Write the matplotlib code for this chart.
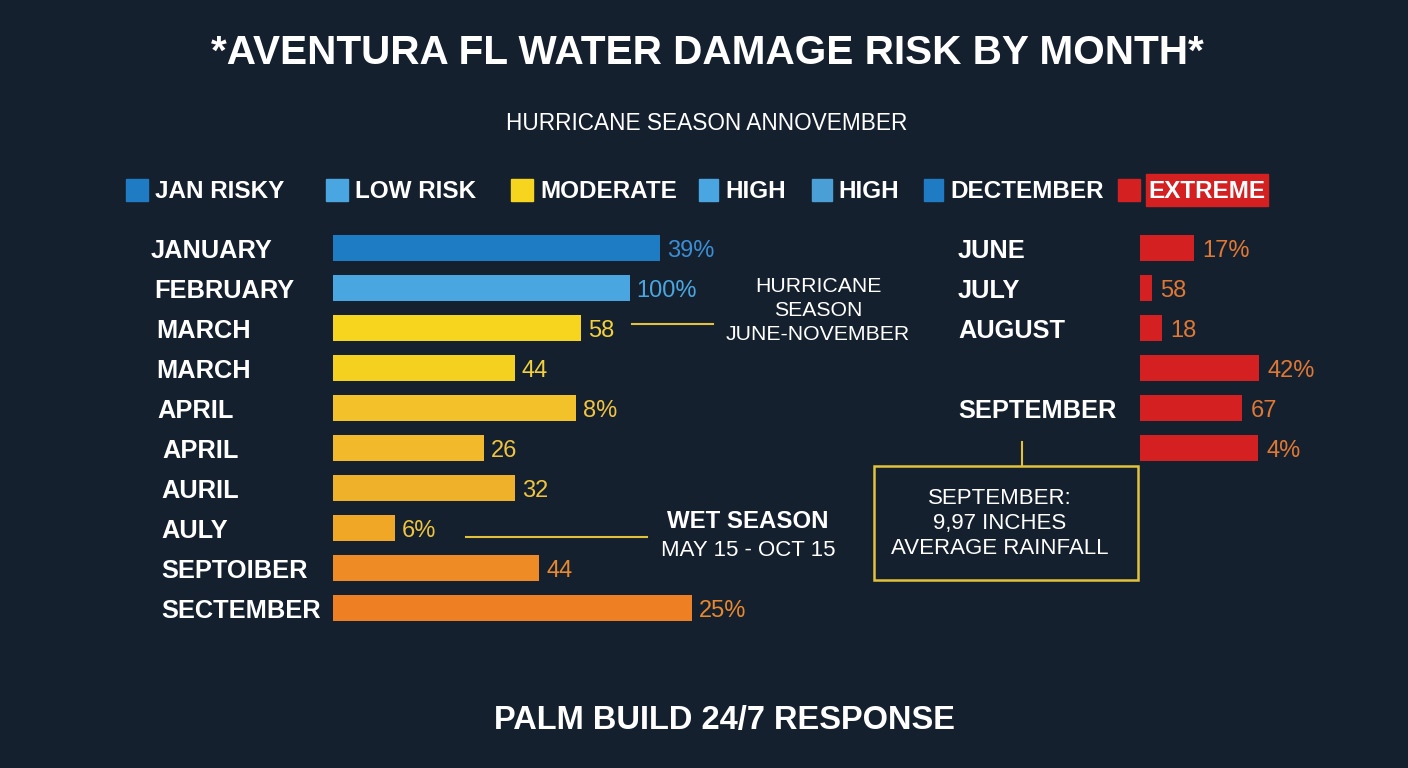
#!/usr/bin/env python3
"""Aventura FL water damage risk by month - recreated chart"""

import matplotlib
matplotlib.use("Agg")
import matplotlib.pyplot as plt
from matplotlib.patches import Rectangle
from matplotlib.transforms import blended_transform_factory

plt.rcParams['font.family'] = ['Liberation Sans', 'DejaVu Sans']

# ---- data -------------------------------------------------------------
left_months = ['JANUARY', 'FEBRUARY', 'MARCH', 'MARCH', 'APRIL', 'APRIL',
               'AURIL', 'AULY', 'SEPTOIBER', 'SECTEMBER']
left_values = [91.1, 82.7, 69.1, 50.7, 67.8, 42.1, 50.7, 17.3, 57.5, 100.0]
left_labels = ['39%', '100%', '58', '44', '8%', '26', '32', '6%', '44', '25%']
left_colors = ['#1d7cc4', '#4aa6e0', '#f7d51e', '#f5d11f', '#f3c12a', '#f2ba2b',
               '#f0b12a', '#f0a726', '#ee8b25', '#ee7f22']
left_label_colors = ['#3b8ed4', '#4aa6e0', '#f2d13a', '#f2d13a', '#f0c440', '#f0c440',
                     '#f0c440', '#f0c440', '#e8892f', '#e8892f']

right_months = ['JUNE', 'JULY', 'AUGUST', '', 'SEPTEMBER', '']
right_values = [15.0, 3.3, 6.1, 33.1, 28.4, 32.9]
right_labels = ['17%', '58', '18', '42%', '67', '4%']

legend_labels = ['JAN RISKY', 'LOW RISK', 'MODERATE', 'HIGH', 'HIGH', 'DECTEMBER', 'EXTREME']
legend_colors = ['#1f7cc4', '#4aa6e0', '#f7d51e', '#4aa6e0', '#4a9fd6', '#1f7cc4', '#d42020']

# ---- style ------------------------------------------------------------
BG = '#15202e'
RED = '#d42020'
RED_TXT = '#e07835'
GOLD = '#e2c23c'
W, H = 1408, 768

fig = plt.figure(figsize=(W / 100, H / 100), dpi=100, facecolor=BG)

# overlay in pixel coordinates for titles and annotations
ov = fig.add_axes([0, 0, 1, 1])
ov.set_xlim(0, W)
ov.set_ylim(H, 0)
ov.axis('off')


def px_axes(x0, y0, w, h):
    ax = fig.add_axes([x0 / W, 1 - (y0 + h) / H, w / W, h / H])
    ax.axis('off')
    return ax


ov.text(707, 53, '*AVENTURA FL WATER DAMAGE RISK BY MONTH*', ha='center', va='center',
        fontsize=29.2, fontweight='bold', color='white')
ov.text(707, 124, 'HURRICANE SEASON ANNOVEMBER', ha='center', va='center',
        fontsize=16.3, color='white')

# legend row
legend_sq_x = [126, 326, 511, 699, 812, 924, 1118]
legend_sq_w = [22, 22, 22, 19, 20, 19, 22]
legend_txt_x = [155, 355, 540, 725, 838, 950, 1207]
for x, w, tx, lab, col in zip(legend_sq_x, legend_sq_w, legend_txt_x, legend_labels, legend_colors):
    ov.add_patch(Rectangle((x, 179), w, 22, color=col))
    if lab == 'EXTREME':
        ov.add_patch(Rectangle((1146, 174), 122, 32, color=RED))
        ov.text(tx, 192, lab, ha='center', va='center', fontsize=17.5,
                fontweight='bold', color='white')
    else:
        ov.text(tx, 192, lab, ha='left', va='center', fontsize=17.5,
                fontweight='bold', color='white')

# left panel
axl = px_axes(333, 228, 359, 400)
axl.set_xlim(0, 100)
axl.set_ylim(9.5, -0.5)
rows = range(len(left_values))
axl.barh(rows, left_values, height=0.64, color=left_colors)
month_x = [151, 154, 156, 156, 157, 162, 161, 161, 161, 161]
tl = blended_transform_factory(ov.transData, axl.transData)
for i, (v, lab, lc, m) in enumerate(zip(left_values, left_labels, left_label_colors, left_months)):
    axl.text(v + 1.9, i + 0.07, lab, ha='left', va='center', fontsize=17, color=lc, clip_on=False)
    axl.text(month_x[i], i + 0.08, m, transform=tl, ha='left', va='center', fontsize=18.3,
             fontweight='bold', color='white', clip_on=False)

# right panel
axr = px_axes(1140, 228, 150, 240)
axr.set_xlim(0, 150 / 3.59)
axr.set_ylim(5.5, -0.5)
axr.barh(range(len(right_values)), right_values, height=0.64, color=RED)
tr = blended_transform_factory(ov.transData, axr.transData)
for i, (v, lab, m) in enumerate(zip(right_values, right_labels, right_months)):
    axr.text(v + 2.4, i + 0.07, lab, ha='left', va='center', fontsize=17, color=RED_TXT,
             clip_on=False)
    if m:
        axr.text(958, i + 0.08, m, transform=tr, ha='left', va='center', fontsize=18.3,
                 fontweight='bold', color='white', clip_on=False)

# hurricane season note
ov.plot([632, 713], [324, 324], color=GOLD, lw=1.5)
for y, line in zip([286, 311, 334], ['HURRICANE', 'SEASON', 'JUNE-NOVEMBER']):
    ov.text(818, y, line, ha='center', va='center', fontsize=15.3, color='white')

# wet season note
ov.plot([466, 647], [537, 537], color=GOLD, lw=1.5)
ov.text(748, 522, 'WET SEASON', ha='center', va='center', fontsize=17.3,
        fontweight='bold', color='white')
ov.text(748, 550, 'MAY 15 - OCT 15', ha='center', va='center', fontsize=16, color='white')

# september rainfall box
ov.plot([1022, 1022], [442, 466], color=GOLD, lw=1.5)
ov.add_patch(Rectangle((874, 466), 264, 114, fill=False, edgecolor=GOLD, lw=1.8))
for y, line in zip([498, 523, 548], ['SEPTEMBER:', '9,97 INCHES', 'AVERAGE RAINFALL']):
    ov.text(1000, y, line, ha='center', va='center', fontsize=16, color='white')

ov.text(724, 721, 'PALM BUILD 24/7 RESPONSE', ha='center', va='center',
        fontsize=23.5, fontweight='bold', color='white')

fig.savefig('out.png', dpi=100, facecolor=BG)
plt.close(fig)
